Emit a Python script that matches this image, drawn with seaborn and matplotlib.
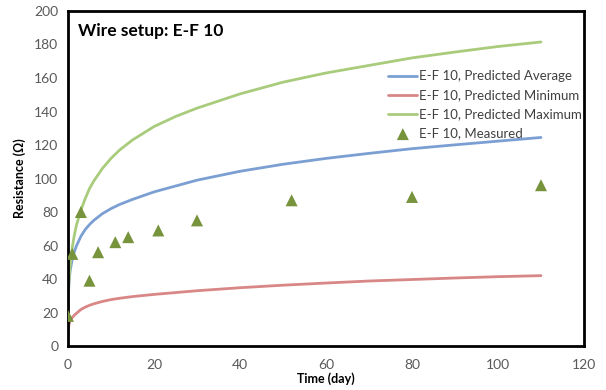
import numpy as np
import pandas as pd
import matplotlib
matplotlib.use("Agg")
import matplotlib.pyplot as plt
import seaborn as sns

# Predicted resistance curves (days vs ohms)
days_pred = [0, 0.1, 0.25, 0.5, 1, 1.5, 2, 3, 4, 5, 6, 8, 10, 12, 15, 20, 25, 30,
             40, 50, 60, 70, 80, 90, 100, 110]
pred_average = [21, 31, 38.5, 45, 52, 56.5, 60, 65.5, 69.5, 72.5, 75, 79, 82, 84.5, 87.5, 92,
                95.5, 99, 104.3, 108.5, 112, 115, 117.8, 120.1, 122.3, 124.5]
pred_minimum = [6.5, 10.5, 13, 15, 17, 18.5, 19.6, 21.8, 23.2, 24.3, 25.2, 26.6, 27.7, 28.5,
                29.5, 30.8, 31.9, 33, 34.8, 36.3, 37.6, 38.8, 39.7, 40.6, 41.4, 42]
pred_maximum = [29, 34, 40, 48, 59, 66.5, 72.5, 81, 88, 94, 98.5, 106, 112, 117, 123, 131,
                137, 142, 150.5, 157.5, 163, 167.5, 172, 175.5, 178.8, 181.5]

# Measured resistance
days_meas = [0, 1, 3, 5, 7, 11, 14, 21, 30, 52, 80, 110]
measured = [18, 55, 80, 39, 56, 62, 65, 69, 75, 87, 89, 96]

series_names = ["E-F 10, Predicted Average", "E-F 10, Predicted Minimum", "E-F 10, Predicted Maximum"]
series_colors = ["#7b9fd3", "#d98686", "#a9cc7c"]

curves = pd.concat([
    pd.DataFrame({"day": days_pred, "R": vals, "series": name})
    for name, vals in zip(series_names, [pred_average, pred_minimum, pred_maximum])
])
meas = pd.DataFrame({"day": days_meas, "R": measured})

sns.set_theme(style="white")
plt.rcParams["font.family"] = ["Lato", "DejaVu Sans"]

fig = plt.figure(figsize=(6.06, 3.90), dpi=100)
ax = fig.add_axes([0.1122, 0.1128, 0.8515, 0.859])

sns.lineplot(data=curves, x="day", y="R", hue="series", palette=series_colors,
             hue_order=series_names, linewidth=2, ax=ax, legend=True)
sns.scatterplot(data=meas, x="day", y="R", marker="^", s=75, color="#77933c",
                edgecolor="none", label="E-F 10, Measured", ax=ax, zorder=5)

ax.set_xlim(0, 120)
ax.set_ylim(0, 200)
ax.set_xticks(np.arange(0, 121, 20))
ax.set_yticks(np.arange(0, 201, 20))
ax.tick_params(axis="both", which="both", direction="out", length=4, width=0.8,
               color="#a6a6a6", labelsize=10, labelcolor="#595959", pad=3)
ax.tick_params(axis="x", pad=5)

for sp in ax.spines.values():
    sp.set_color("black")
    sp.set_linewidth(2)

ax.set_xlabel("Time (day)", fontsize=9, fontweight="bold", color="black", labelpad=1)
ax.set_ylabel("Resistance (Ω)", fontsize=9, fontweight="bold", color="black", labelpad=6)

ax.text(0.02, 0.94, "Wire setup: E-F 10", transform=ax.transAxes, fontsize=12.5,
        fontweight="bold", color="black", ha="left", va="center")

leg = ax.legend(loc="upper left", bbox_to_anchor=(0.608, 0.843), frameon=False, fontsize=9.5,
                handlelength=2.2, handletextpad=0.1, labelspacing=0.54, borderpad=0)
for t in leg.get_texts():
    t.set_color("#404040")

fig.savefig("out.png", dpi=100, facecolor="white")
